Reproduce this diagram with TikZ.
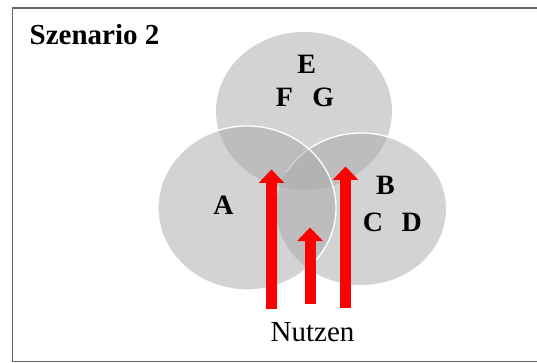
\documentclass[tikz,border=0pt]{standalone}
\usepackage{fontspec}
\setmainfont{Liberation Serif}
\usetikzlibrary{arrows.meta}
\begin{document}
\begin{tikzpicture}[x=1pt,y=-1pt,
  set/.style={fill=black!34,fill opacity=0.5},
  setborder/.style={draw=white,line width=1.3pt},
  lbl/.style={anchor=base,inner sep=0pt,font=\fontsize{28}{30}\selectfont\bfseries},
  benefit/.style={draw=red,line width=11pt,-{Triangle[width=25pt,length=13.5pt]}}]
\useasboundingbox (0,0) rectangle (537,363);
\node[draw=black!60,line width=1.3pt,inner sep=0pt,minimum width=524.5pt,minimum height=353.5pt,anchor=north west] (frame) at (12,7.5) {};
% circles
\fill[set] (304,111) ellipse [x radius=88,y radius=79];
\fill[set] (361,209) ellipse [x radius=85,y radius=76];
\begin{scope}
  \clip (200,100) rectangle (460,172);
  \draw[setborder] (361,209) ellipse [x radius=85,y radius=76];
\end{scope}
\fill[set] (247,208) ellipse [x radius=89,y radius=82];
\draw[setborder] (247,208) ellipse [x radius=89,y radius=82];
% labels
\node[anchor=base west,inner sep=0pt,font=\fontsize{29}{31}\selectfont\bfseries] (title) at (29.5,45) {Szenario 2};
\node[lbl] (E) at (306.7,74) {E};
\node[lbl] (F) at (284.5,106.7) {F};
\node[lbl] (G) at (323.3,107) {G};
\node[lbl] (A) at (223.5,214.3) {A};
\node[lbl] (B) at (385.5,195) {B};
\node[lbl] (C) at (373,231.7) {C};
\node[lbl] (D) at (411.7,231) {D};
\node[anchor=base,inner sep=0pt,font=\fontsize{29}{31}\selectfont] (nutzen) at (312.5,341.7) {Nutzen};
% arrows
\coordinate (l1) at (271.5,309);
\coordinate (l2) at (271.5,169.5);
\coordinate (m1) at (310,304);
\coordinate (m2) at (310,227.5);
\coordinate (r1) at (345.5,307.5);
\coordinate (r2) at (345.5,166.5);
\draw[benefit] (l1) -- (l2);
\draw[benefit] (m1) -- (m2);
\draw[benefit] (r1) -- (r2);
\end{tikzpicture}
\end{document}
